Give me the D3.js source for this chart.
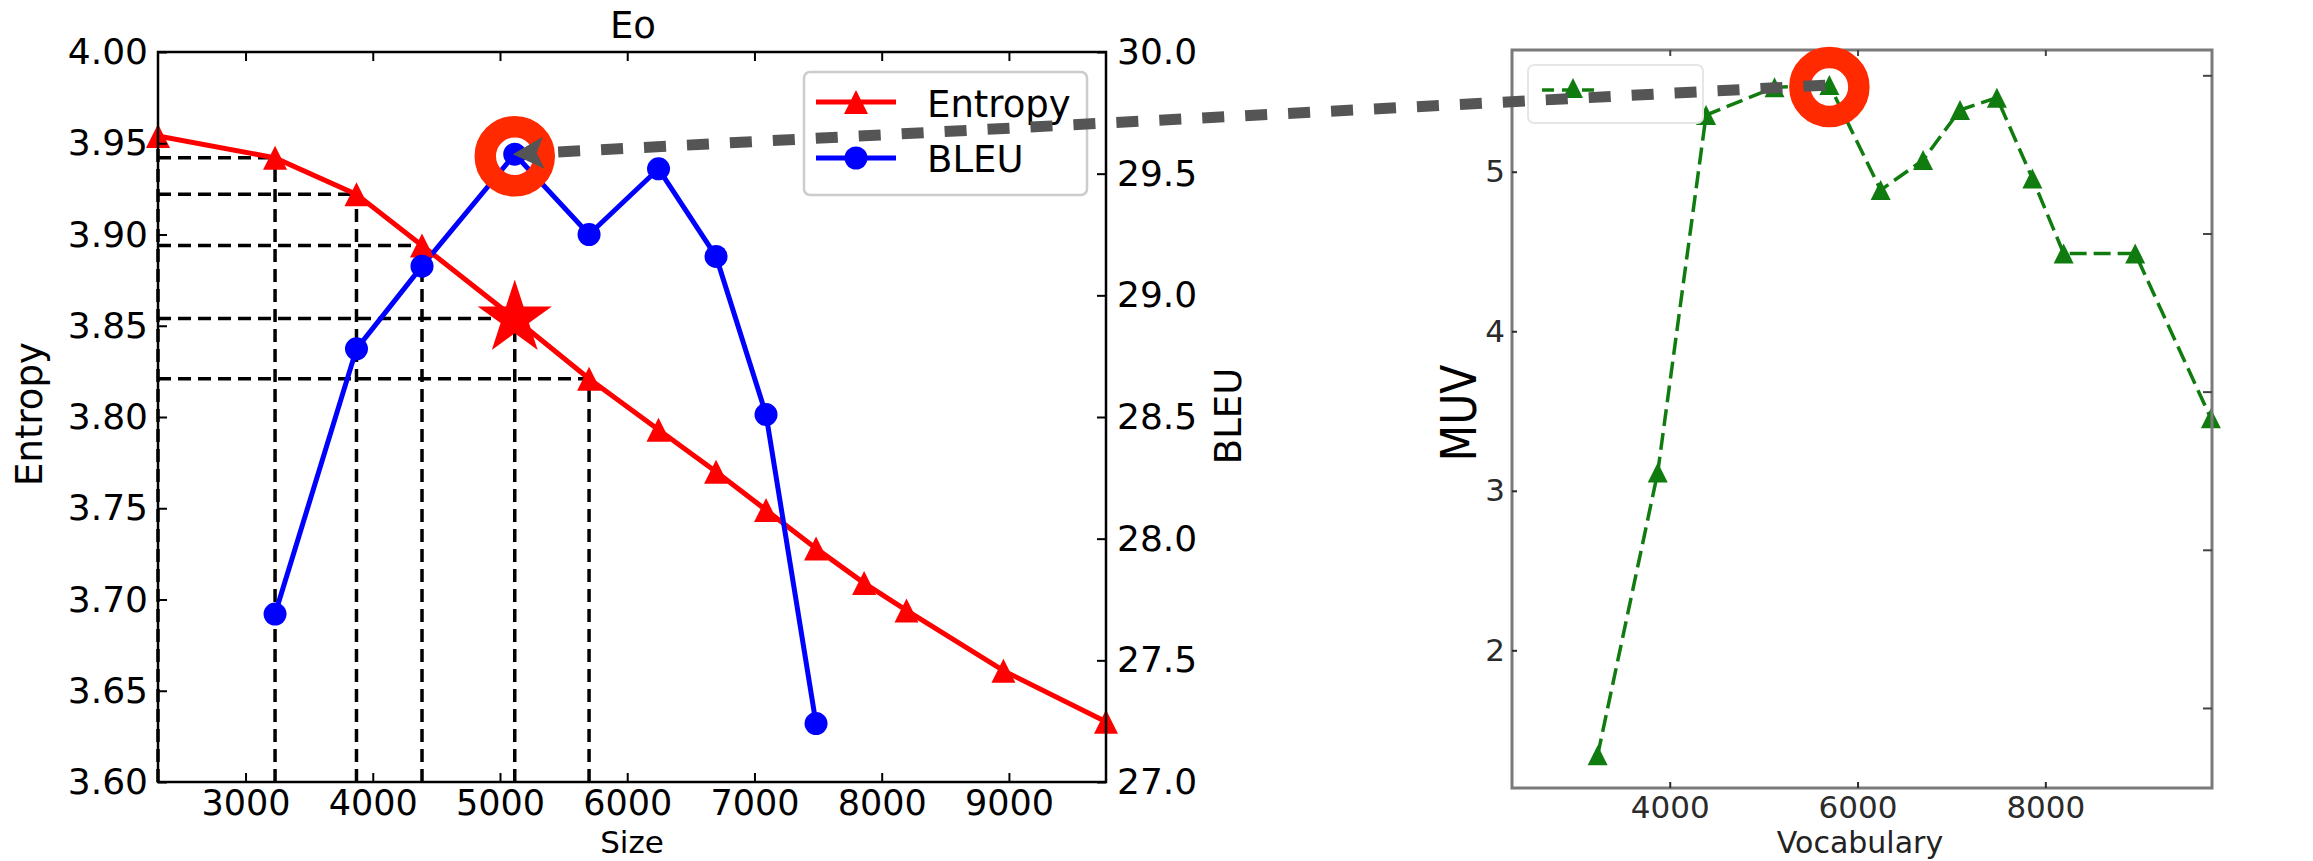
<!DOCTYPE html>
<html>
<head>
<meta charset="utf-8">
<script src="https://cdn.jsdelivr.net/npm/d3@7"></script>
<style>
  body { margin: 0; background: #fff; }
  text { font-family: "DejaVu Sans", sans-serif; }
</style>
</head>
<body>
<script>
// ---- data ----
const sizes   = [2312, 3232, 3872, 4387, 5116, 5700, 6246, 6698, 7091, 7484, 7862, 8195, 8957, 9763];
const entropy = [3.954, 3.942, 3.922, 3.894, 3.854, 3.821, 3.793, 3.770, 3.749, 3.728, 3.709, 3.694, 3.661, 3.633];

const bleuSizes = [3232, 3872, 4387, 5116, 5700, 6246, 6698, 7091, 7484];
const bleu      = [27.69, 28.78, 29.12, 29.58, 29.25, 29.52, 29.16, 28.51, 27.24];

const vocab = [3232, 3872, 4387, 5116, 5700, 6246, 6698, 7091, 7484, 7862, 8195, 8957, 9763];
const muv   = [1.342, 3.115, 5.355, 5.529, 5.544, 4.885, 5.073, 5.387, 5.464, 4.958, 4.488, 4.488, 3.454];

const guideCount = 6;   // first points that get dashed guide lines
const starIndex = 4;    // entropy point marked with the star
const bleuPeak = 3;     // circled BLEU point
const muvPeak = 4;      // circled MUV point

const sizeTicks    = [3000, 4000, 5000, 6000, 7000, 8000, 9000];
const entropyTicks = [3.60, 3.65, 3.70, 3.75, 3.80, 3.85, 3.90, 3.95, 4.00];
const bleuTicks    = [27.0, 27.5, 28.0, 28.5, 29.0, 29.5, 30.0];
const vocabTicks   = [4000, 6000, 8000];
const muvTicks     = [2, 3, 4, 5];
const twinTicks    = [1, 2, 3, 4, 5];

const W = 2313, H = 861;
const svg = d3.select("body").append("svg")
  .attr("width", W)
  .attr("height", H);
svg.append("rect").attr("width", W).attr("height", H).attr("fill", "#fff");

// ---------------- left panel ----------------
const L = {x0: 158, x1: 1106, y0: 52, y1: 782};
const x  = d3.scaleLinear().domain([2312, 9763]).range([L.x0, L.x1]);
const yE = d3.scaleLinear().domain([3.6, 4.0]).range([L.y1, L.y0]);
const yB = d3.scaleLinear().domain([27, 30]).range([L.y1, L.y0]);

const left = svg.append("g");

// dashed guides
const guides = d3.range(guideCount);
left.selectAll("line.vguide").data(guides).enter().append("line")
  .attr("class", "vguide")
  .attr("x1", i => x(sizes[i])).attr("x2", i => x(sizes[i]))
  .attr("y1", L.y1).attr("y2", i => yE(entropy[i]))
  .attr("stroke", "#000").attr("stroke-width", 3.5).attr("stroke-dasharray", "13,7");
left.selectAll("line.hguide").data(guides).enter().append("line")
  .attr("class", "hguide")
  .attr("x1", L.x0).attr("x2", i => x(sizes[i]))
  .attr("y1", i => yE(entropy[i])).attr("y2", i => yE(entropy[i]))
  .attr("stroke", "#000").attr("stroke-width", 3.5).attr("stroke-dasharray", "13,7");

function tri(s) { return `M0,${-s}L${s},${s}L${-s},${s}Z`; }

// entropy line
const entLine = d3.line().x((d, i) => x(sizes[i])).y(d => yE(d));
left.append("path").datum(entropy)
  .attr("d", entLine).attr("fill", "none")
  .attr("stroke", "#ff0000").attr("stroke-width", 5);

// bleu line
const bleuLine = d3.line().x((d, i) => x(bleuSizes[i])).y(d => yB(d));
left.append("path").datum(bleu)
  .attr("d", bleuLine).attr("fill", "none")
  .attr("stroke", "#0000ff").attr("stroke-width", 5);

left.selectAll("path.tri").data(entropy).enter().append("path")
  .attr("class", "tri")
  .attr("d", tri(12))
  .attr("transform", (d, i) => `translate(${x(sizes[i])},${yE(d)})`)
  .attr("fill", "#ff0000");

left.selectAll("circle.bleu").data(bleu).enter().append("circle")
  .attr("class", "bleu")
  .attr("cx", (d, i) => x(bleuSizes[i])).attr("cy", d => yB(d))
  .attr("r", 11.5).attr("fill", "#0000ff");

// star
left.append("path")
  .attr("d", d3.symbol(d3.symbolStar, 1710)())
  .attr("transform", `translate(${x(sizes[starIndex])},${yE(entropy[starIndex])})`)
  .attr("fill", "#ff0000");

// frame
left.append("rect")
  .attr("x", L.x0).attr("y", L.y0)
  .attr("width", L.x1 - L.x0).attr("height", L.y1 - L.y0)
  .attr("fill", "none").attr("stroke", "#000").attr("stroke-width", 2.5);

function styleAxis(g, size, color) {
  g.select(".domain").remove();
  g.attr("font-size", size).attr("font-family", "DejaVu Sans, sans-serif");
  g.selectAll(".tick line").attr("stroke", color).attr("stroke-width", 2);
  g.selectAll(".tick text").attr("fill", color);
}

left.append("g").attr("transform", `translate(0,${L.y1})`)
  .call(d3.axisBottom(x).tickValues(sizeTicks).tickSize(-9).tickPadding(8).tickFormat(d3.format("d")))
  .call(g => styleAxis(g, 35, "#000"));
left.append("g").attr("transform", `translate(0,${L.y0})`)
  .call(d3.axisTop(x).tickValues(sizeTicks).tickSize(-9).tickFormat(""))
  .call(g => styleAxis(g, 36, "#000"));
left.append("g").attr("transform", `translate(${L.x0},0)`)
  .call(d3.axisLeft(yE).tickValues(entropyTicks).tickSize(-9).tickPadding(10).tickFormat(d3.format(".2f")))
  .call(g => styleAxis(g, 36, "#000"));
left.append("g").attr("transform", `translate(${L.x1},0)`)
  .call(d3.axisRight(yB).tickValues(bleuTicks).tickSize(-9).tickPadding(11).tickFormat(d3.format(".1f")))
  .call(g => styleAxis(g, 36, "#000"));

left.append("text").attr("x", 633).attr("y", 38)
  .attr("text-anchor", "middle").attr("font-size", 37).text("Eo");
left.append("text").attr("x", 632).attr("y", 853)
  .attr("text-anchor", "middle").attr("font-size", 31).text("Size");
left.append("text").attr("transform", "translate(42,414) rotate(-90)")
  .attr("text-anchor", "middle").attr("font-size", 37).text("Entropy");
left.append("text").attr("transform", "translate(1241,416) rotate(-90)")
  .attr("text-anchor", "middle").attr("font-size", 37).text("BLEU");

// legend
const leg = left.append("g");
leg.append("rect").attr("x", 804).attr("y", 72).attr("width", 283).attr("height", 123)
  .attr("rx", 6).attr("fill", "#fff").attr("stroke", "#cccccc").attr("stroke-width", 2.5);
leg.append("line").attr("x1", 816).attr("x2", 896).attr("y1", 102).attr("y2", 102)
  .attr("stroke", "#ff0000").attr("stroke-width", 5);
leg.append("path").attr("d", tri(12)).attr("transform", "translate(856,102)").attr("fill", "#ff0000");
leg.append("text").attr("x", 927).attr("y", 117).attr("font-size", 37).text("Entropy");
leg.append("line").attr("x1", 816).attr("x2", 896).attr("y1", 158).attr("y2", 158)
  .attr("stroke", "#0000ff").attr("stroke-width", 5);
leg.append("circle").attr("cx", 856).attr("cy", 158).attr("r", 11.5).attr("fill", "#0000ff");
leg.append("text").attr("x", 927).attr("y", 172).attr("font-size", 37).text("BLEU");

// ---------------- right panel ----------------
const R = {x0: 1512, x1: 2212, y0: 50, y1: 788};
const x2 = d3.scaleLinear().domain([2320, 9775]).range([R.x0, R.x1]);
const yM = d3.scaleLinear().domain([1.137, 5.763]).range([R.y1, R.y0]);
const yT = d3.scaleLinear().domain([0.494, 5.16]).range([R.y1, R.y0]);

const right = svg.append("g");

const muvLine = d3.line().x((d, i) => x2(vocab[i])).y(d => yM(d));
right.append("path").datum(muv)
  .attr("d", muvLine).attr("fill", "none")
  .attr("stroke", "#107c10").attr("stroke-width", 3.5).attr("stroke-dasharray", "17,7");
right.selectAll("path.gtri").data(muv).enter().append("path")
  .attr("class", "gtri")
  .attr("d", tri(10))
  .attr("transform", (d, i) => `translate(${x2(vocab[i])},${yM(d)})`)
  .attr("fill", "#107c10");

right.append("rect")
  .attr("x", R.x0).attr("y", R.y0)
  .attr("width", R.x1 - R.x0).attr("height", R.y1 - R.y0)
  .attr("fill", "none").attr("stroke", "#7a7a7a").attr("stroke-width", 3);

right.append("g").attr("transform", `translate(0,${R.y1})`)
  .call(d3.axisBottom(x2).tickValues(vocabTicks).tickSize(-6).tickPadding(8).tickFormat(d3.format("d")))
  .call(g => styleAxis(g, 31, "#2b2b2b"));
right.append("g").attr("transform", `translate(0,${R.y0})`)
  .call(d3.axisTop(x2).tickValues(vocabTicks).tickSize(-6).tickFormat(""))
  .call(g => styleAxis(g, 31, "#444"));
right.append("g").attr("transform", `translate(${R.x0},0)`)
  .call(d3.axisLeft(yM).tickValues(muvTicks).tickSize(-5).tickPadding(7).tickFormat(d3.format("d")))
  .call(g => styleAxis(g, 31, "#2b2b2b"));
right.append("g").attr("transform", `translate(${R.x1},0)`)
  .call(d3.axisRight(yT).tickValues(twinTicks).tickSize(-9).tickFormat(""))
  .call(g => styleAxis(g, 31, "#444"));

right.append("text").attr("x", 1860).attr("y", 853)
  .attr("text-anchor", "middle").attr("font-size", 30).attr("fill", "#222").text("Vocabulary");
right.append("text").attr("transform", "translate(1476,413) rotate(-90)")
  .attr("text-anchor", "middle").attr("font-size", 50)
  .attr("textLength", 97).attr("lengthAdjust", "spacingAndGlyphs").text("MUV");

// faint legend
right.append("rect").attr("x", 1528).attr("y", 65).attr("width", 175).attr("height", 58)
  .attr("rx", 6).attr("fill", "#fff").attr("stroke", "#e6e6e6").attr("stroke-width", 2);
right.append("line").attr("x1", 1542).attr("x2", 1602).attr("y1", 90).attr("y2", 90)
  .attr("stroke", "#107c10").attr("stroke-width", 3.5).attr("stroke-dasharray", "12,8");
right.append("path").attr("d", tri(10)).attr("transform", "translate(1573,88)").attr("fill", "#107c10");

// ---------------- annotation: rings + arrow ----------------
const p0 = [x(bleuSizes[bleuPeak]), yB(bleu[bleuPeak])];
const p1 = [x2(vocab[muvPeak]), yM(muv[muvPeak])];

svg.selectAll("circle.ring").data([p0, p1]).enter().append("circle")
  .attr("class", "ring")
  .attr("cx", d => d[0]).attr("cy", d => d[1] + 2)
  .attr("r", 29.5).attr("fill", "none")
  .attr("stroke", "#ff2a00").attr("stroke-width", 21.5);

const dx = p0[0] - p1[0], dy = p0[1] - p1[1];
const len = Math.hypot(dx, dy);
const u = [dx / len, dy / len], n = [-u[1], u[0]];
const tip = [p0[0] + u[0] * 2, p0[1] + u[1] * 2];
const headLen = 31, headW = 16;
const base = [tip[0] - u[0] * headLen, tip[1] - u[1] * headLen];
const notch = [base[0] + u[0] * 7, base[1] + u[1] * 7];

svg.append("line")
  .attr("x1", p1[0] + u[0] * 4).attr("y1", p1[1] + u[1] * 4)
  .attr("x2", base[0] + u[0] * 6).attr("y2", base[1] + u[1] * 6)
  .attr("stroke", "#555555").attr("stroke-width", 11).attr("stroke-dasharray", "22,21");
svg.append("path")
  .attr("d", `M${tip}L${base[0] + n[0] * headW},${base[1] + n[1] * headW}L${notch}L${base[0] - n[0] * headW},${base[1] - n[1] * headW}Z`)
  .attr("fill", "#555555");
</script>
</body>
</html>
